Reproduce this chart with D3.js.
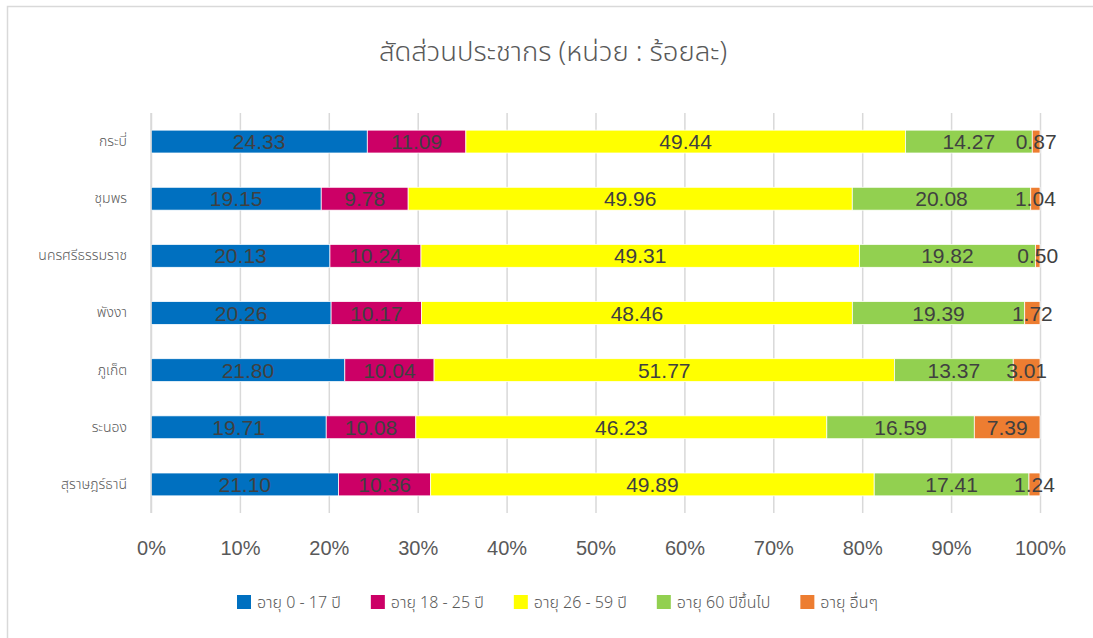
<!DOCTYPE html>
<html>
<head>
<meta charset="utf-8">
<script src="https://cdn.jsdelivr.net/npm/d3@7"></script>
<style>
  body { margin: 0; background: #fff; }
  text { font-family: "Liberation Sans", Arial, sans-serif; }
  .thai { font-family: "Noto Sans Thai", "Leelawadee UI", "Noto Sans", "DejaVu Sans", sans-serif; }
</style>
</head>
<body>
<div id="chart"></div>
<script>
// provinces, top to bottom
const provinces = ['กระบี่', 'ชุมพร', 'นครศรีธรรมราช', 'พังงา', 'ภูเก็ต', 'ระนอง', 'สุราษฎร์ธานี'];

const seriesNames = ['อายุ 0 - 17 ปี', 'อายุ 18 - 25 ปี', 'อายุ 26 - 59 ปี', 'อายุ 60 ปีขึ้นไป', 'อายุ อื่นๆ'];
const seriesColors = ['#0070C0', '#CC0066', '#FFFF00', '#92D050', '#ED7D31'];

const age0to17   = [24.33, 19.15, 20.13, 20.26, 21.80, 19.71, 21.10];
const age18to25  = [11.09, 9.78, 10.24, 10.17, 10.04, 10.08, 10.36];
const age26to59  = [49.44, 49.96, 49.31, 48.46, 51.77, 46.23, 49.89];
const age60up    = [14.27, 20.08, 19.82, 19.39, 13.37, 16.59, 17.41];
const ageOther   = [0.87, 1.04, 0.50, 1.72, 3.01, 7.39, 1.24];

const xTicks = [0, 0.1, 0.2, 0.3, 0.4, 0.5, 0.6, 0.7, 0.8, 0.9, 1];

const seriesValues = [age0to17, age18to25, age26to59, age60up, ageOther];

var svgWidth = 1093, svgHeight = 638;
var margin = { top: 113, right: 53, bottom: 125, left: 151 };
var width = svgWidth - margin.left - margin.right;
var height = svgHeight - margin.top - margin.bottom;

var svg = d3.select('#chart').append('svg')
    .attr('width', svgWidth)
    .attr('height', svgHeight);

// outer chart frame
svg.append('rect')
    .attr('x', 7.5).attr('y', 6.5)
    .attr('width', 1100).attr('height', 700)
    .attr('fill', 'none')
    .attr('stroke', '#D9D9D9')
    .attr('stroke-width', 1.5);

svg.append('text')
    .attr('class', 'thai')
    .attr('x', 553).attr('y', 61)
    .attr('text-anchor', 'middle')
    .attr('font-size', 27.5)
    .attr('font-weight', 300)
    .attr('fill', '#595959')
    .text('สัดส่วนประชากร (หน่วย : ร้อยละ)');

var g = svg.append('g')
    .attr('transform', 'translate(' + margin.left + ',' + margin.top + ')');

var x = d3.scaleLinear().domain([0, 1]).range([0, width]);
var y = d3.scaleBand().domain(provinces).range([0, height])
    .paddingInner(0.6).paddingOuter(0.3);

// table of rows, normalized to shares
var rows = provinces.map((p, i) => {
    var row = { province: p };
    var total = d3.sum(seriesValues, s => s[i]);
    seriesNames.forEach((n, k) => { row[n] = seriesValues[k][i] / total; row['raw' + k] = seriesValues[k][i]; });
    return row;
});

var stacked = d3.stack().keys(seriesNames)(rows);

// gridlines
g.append('g')
    .call(d3.axisBottom(x).tickValues(xTicks).tickSize(height).tickFormat(''))
    .call(a => a.select('.domain').remove())
    .call(a => a.selectAll('line').attr('stroke', '#D9D9D9').attr('stroke-width', 1.5));

// x tick labels
g.append('g')
    .attr('transform', 'translate(0,' + height + ')')
    .call(d3.axisBottom(x).tickValues(xTicks).tickSize(0).tickPadding(28).tickFormat(d3.format('.0%')))
    .call(a => a.select('.domain').remove())
    .call(a => a.selectAll('text').attr('font-size', 20).attr('fill', '#595959')
        .attr('font-family', '"Liberation Sans", Arial, sans-serif'));

// y labels
g.append('g')
    .call(d3.axisLeft(y).tickSize(0).tickPadding(24))
    .call(a => a.select('.domain').remove())
    .call(a => a.selectAll('text').attr('class', 'thai').attr('font-size', 14).attr('fill', '#595959')
        .attr('font-weight', 300).attr('font-family', null));

// bars
var layers = g.selectAll('.layer')
    .data(stacked)
    .enter().append('g')
    .attr('class', 'layer')
    .attr('fill', (d, k) => seriesColors[k]);

layers.selectAll('rect')
    .data(d => d)
    .enter().append('rect')
    .attr('x', d => x(d[0]))
    .attr('y', d => y(d.data.province))
    .attr('width', d => x(d[1]) - x(d[0]))
    .attr('height', y.bandwidth())
    .attr('stroke', '#fff')
    .attr('stroke-width', 0.75);

// data labels
stacked.forEach((layer, k) => {
    g.selectAll('.lbl' + k)
        .data(layer)
        .enter().append('text')
        .attr('class', 'lbl' + k)
        .attr('x', d => x((d[0] + d[1]) / 2))
        .attr('y', d => y(d.data.province) + y.bandwidth() / 2)
        .attr('dy', '0.36em')
        .attr('text-anchor', 'middle')
        .attr('font-size', 21)
        .attr('fill', '#404040')
        .text(d => d.data['raw' + k].toFixed(2));
});

// axis line at 0%
g.append('line')
    .attr('x1', 0).attr('x2', 0)
    .attr('y1', 0).attr('y2', height)
    .attr('stroke', '#D9D9D9').attr('stroke-width', 1.5);

// legend
var legend = svg.append('g').attr('transform', 'translate(0,602)');
var items = legend.selectAll('.item')
    .data(seriesNames)
    .enter().append('g')
    .attr('class', 'item');

items.append('rect')
    .attr('width', 14).attr('height', 14)
    .attr('y', -7)
    .attr('fill', (d, k) => seriesColors[k]);

items.append('text')
    .attr('class', 'thai')
    .attr('x', 20)
    .attr('dy', '0.35em')
    .attr('font-size', 16)
    .attr('font-weight', 300)
    .attr('fill', '#595959')
    .text(d => d);

var pos = 237;
items.each(function () {
    var w = this.getBBox().width;
    d3.select(this).attr('transform', 'translate(' + pos + ',0)');
    pos += w + 30;
});
</script>
</body>
</html>
